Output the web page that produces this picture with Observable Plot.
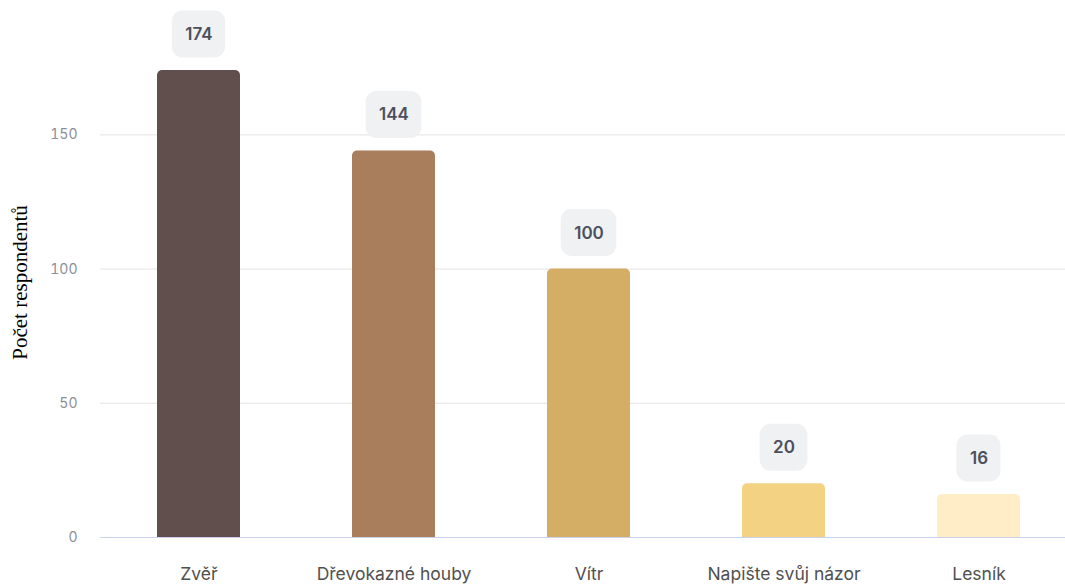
<!DOCTYPE html>
<html>
<head>
<meta charset="utf-8">
<script src="https://cdn.jsdelivr.net/npm/d3@7"></script>
<script src="https://cdn.jsdelivr.net/npm/@observablehq/plot@0.6"></script>
<style>
  html, body { margin: 0; padding: 0; background: #fff; }
  #chart svg { display: block; }
  #chart g[aria-label="y-axis label"] text { font-family: "Liberation Serif", serif !important; font-size: 21px !important; fill: #000 !important; }
</style>
</head>
<body>
<div id="chart"></div>
<script>
const categories = ["Zvěř", "Dřevokazné houby", "Vítr", "Napište svůj názor", "Lesník"];
const values = [174, 144, 100, 20, 16];
const colors = ["#604F4D", "#A87E5C", "#D5AE66", "#F4D283", "#FEEDC6"];
const yTicks = [0, 50, 100, 150];
const yLabel = "Počet respondentů";

const data = categories.map((c, i) => ({category: c, value: values[i]}));

const valueFont = "600 17px Inter, sans-serif";
const measureCtx = document.createElement("canvas").getContext("2d");
function textWidth(s) { measureCtx.font = valueFont; return measureCtx.measureText(s).width; }

// custom mark: rounded boxes behind the value labels, positioned by Plot's scales
function labelBoxes(index, scales) {
  const x = scales.x, y = scales.y;
  const bw = typeof x.bandwidth === "function" ? x.bandwidth() : 0;
  const g = d3.create("svg:g").attr("aria-label", "value boxes");
  data.forEach(d => {
    const cx = x(d.category) + bw / 2;
    const cy = y(d.value) - 36;
    const w = textWidth(String(d.value)) + 26, h = 47;
    g.append("rect")
      .attr("x", cx - w / 2).attr("y", cy - h / 2)
      .attr("width", w).attr("height", h)
      .attr("rx", 11).attr("fill", "#F0F1F2");
  });
  return g.node();
}

const chart = Plot.plot({
  width: 1065,
  height: 584,
  marginLeft: 100,
  marginRight: 0,
  marginTop: 27,
  marginBottom: 47,
  style: {fontFamily: "Inter, sans-serif", background: "#fff"},
  x: {domain: categories, range: [100, 1077], paddingInner: 0.576, paddingOuter: 0.29, label: null},
  y: {domain: [0, 190], ticks: yTicks, label: yLabel, labelAnchor: "center", labelOffset: 88, labelArrow: "none"},
  color: {domain: categories, range: colors},
  marks: [
    Plot.gridY(yTicks, {stroke: "#E3E3E3", strokeOpacity: 1, strokeWidth: 1}),
    Plot.axisY({ticks: yTicks, tickSize: 0, tickPadding: 23, fontSize: 14, fill: "#8A8F98", label: yLabel, labelAnchor: "center", labelOffset: 88, labelArrow: "none"}),
    Plot.axisX({tickSize: 0, tickPadding: 30, fontSize: 17.5, fill: "#505050", label: null}),
    Plot.barY(data, {x: "category", y: "value", fill: "category", rx: 5, insetBottom: -8, clip: true}),
    Plot.ruleY([0], {stroke: "#C9D2EA", strokeWidth: 1.2}),
    labelBoxes,
    Plot.text(data, {x: "category", y: "value", text: d => String(d.value), dy: -36, fontSize: 17, fontWeight: 600, fill: "#4B505D"})
  ]
});

document.getElementById("chart").append(chart);
</script>
</body>
</html>
